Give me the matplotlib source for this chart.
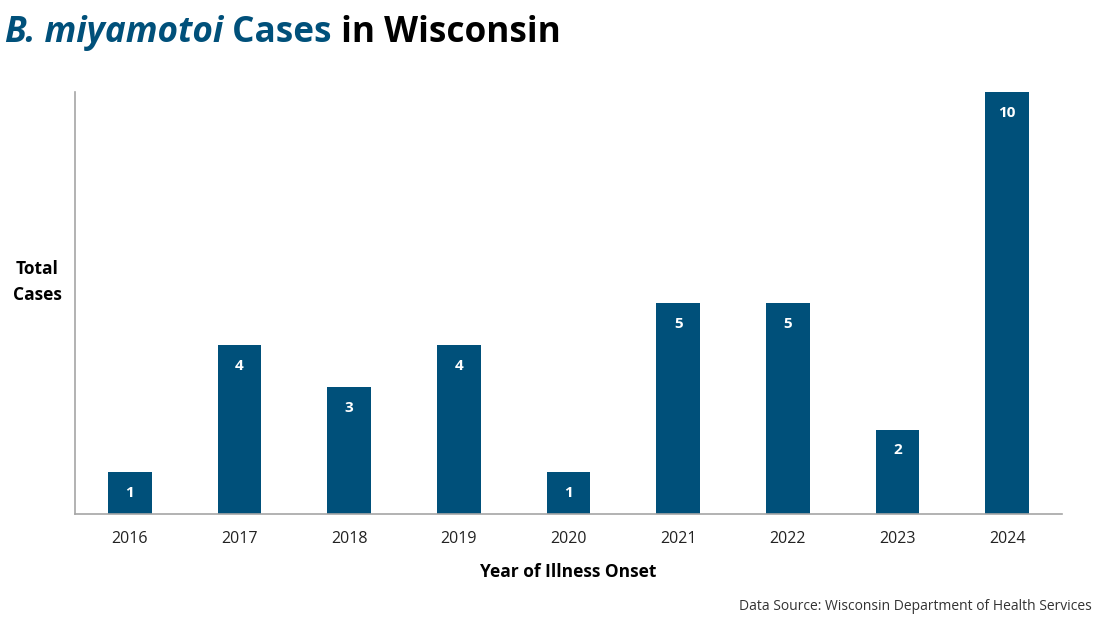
import matplotlib.pyplot as plt

years = ["2016", "2017", "2018", "2019", "2020", "2021", "2022", "2023", "2024"]
cases = [1, 4, 3, 4, 1, 5, 5, 2, 10]

bar_color = "#00507A"
plt.rcParams['font.family'] = ['Open Sans', 'DejaVu Sans']

fig = plt.figure(figsize=(11, 6.19), dpi=100)
ax = fig.add_axes([75 / 1100, 1 - 514 / 619, 987 / 1100, (514 - 92) / 619])

x = list(range(len(years)))
bars = ax.bar(x, cases, width=0.4, color=bar_color)
ax.set_xlim(-0.5, len(years) - 0.5)
ax.set_ylim(0, 10)
ax.set_xticks(x)
ax.set_xticklabels(years, fontsize=11.5, color="#222222")
ax.set_yticks([])
ax.tick_params(axis='x', length=0, pad=12)
for s in ["top", "right"]:
    ax.spines[s].set_visible(False)
for s in ["left", "bottom"]:
    ax.spines[s].set_color("#A6A6A6")
    ax.spines[s].set_linewidth(1.2)

# etiquetas de valor dentro de las barras
for xi, v in zip(x, cases):
    ax.annotate(str(v), (xi, v), xytext=(0, -10), textcoords="offset points",
                ha="center", va="top", color="white", fontsize=11, fontweight="bold")

ax.set_xlabel("Year of Illness Onset", fontsize=12.5, fontweight="bold", labelpad=12)
fig.text(37 / 1100, 1 - 282 / 619, "Total\nCases", ha="center", va="center",
         fontsize=12.5, fontweight="bold", linespacing=1.5)

fig.text(1092 / 1100, 1 - 610 / 619, "Data Source: Wisconsin Department of Health Services",
         ha="right", va="baseline", fontsize=10, color="#333333")

# titulo en tres partes
fig.canvas.draw()
renderer = fig.canvas.get_renderer()
xpos = 5 / 1100
ypos = 1 - 42 / 619
partes = [("B. miyamotoi", bar_color, "italic"), (" Cases", bar_color, "normal"),
          (" in Wisconsin", "black", "normal")]
for txt, col, sty in partes:
    t = fig.text(xpos, ypos, txt, color=col, fontsize=25.3, fontweight="bold",
                 fontstyle=sty, ha="left", va="baseline")
    bb = t.get_window_extent(renderer)
    xpos += bb.width / fig.bbox.width

fig.savefig("out.png", dpi=100)
